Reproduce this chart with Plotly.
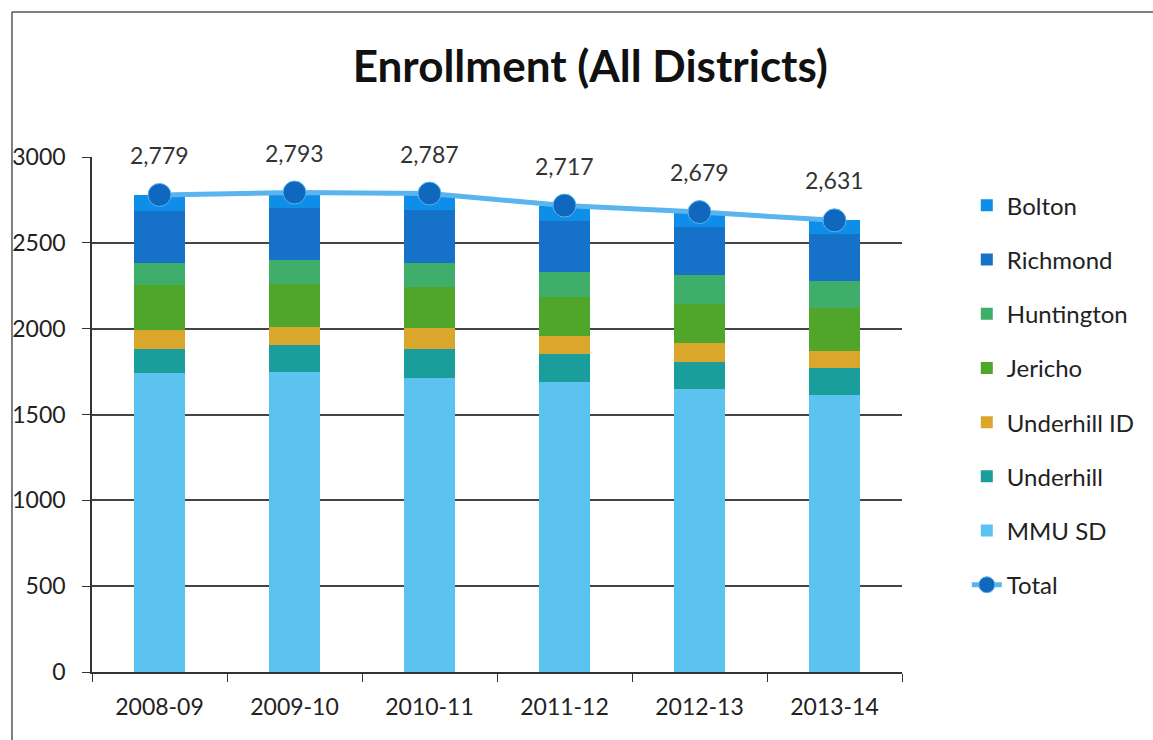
import plotly.graph_objects as go

years = ["2008-09", "2009-10", "2010-11", "2011-12", "2012-13", "2013-14"]
mmu_sd = [1744, 1749, 1711, 1688, 1647, 1614]
underhill = [137, 156, 170, 162, 161, 155]
underhill_id = [111, 106, 121, 109, 110, 101]
jericho = [262, 247, 243, 227, 226, 248]
huntington = [130, 142, 136, 146, 168, 160]
richmond = [300, 301, 308, 295, 283, 273]
bolton = [95, 92, 98, 90, 84, 80]
total = [2779, 2793, 2787, 2717, 2679, 2631]
total_labels = ["2,779", "2,793", "2,787", "2,717", "2,679", "2,631"]
y_ticks = [0, 500, 1000, 1500, 2000, 2500, 3000]

FONT = "Lato, Open Sans, sans-serif"

series = [
    ("MMU SD", mmu_sd, "#5cc3f0", 7),
    ("Underhill", underhill, "#1a9e9c", 6),
    ("Underhill ID", underhill_id, "#dba62c", 5),
    ("Jericho", jericho, "#4fa62a", 4),
    ("Huntington", huntington, "#3fae6a", 3),
    ("Richmond", richmond, "#1572c8", 2),
    ("Bolton", bolton, "#0e8ee8", 1),
]

fig = go.Figure()
for name, vals, color, rank in series:
    fig.add_trace(go.Bar(
        x=years, y=vals, name=name, marker=dict(color=color, line=dict(width=0)),
        legendrank=rank, legendgroup=name,
    ))

fig.add_trace(go.Scatter(
    x=years, y=total, name="Total", mode="lines+markers",
    line=dict(color="#5ab4ee", width=5),
    marker=dict(color="#0f68bd", size=23, line=dict(color="#5ab4ee", width=1)),
    legendrank=8, legendgroup="Total",
))

for yr, t, lab in zip(years, total, total_labels):
    fig.add_annotation(x=yr, y=t, text=lab, showarrow=False, yshift=40,
                       font=dict(family=FONT, size=23, color="#333333"))

fig.update_layout(
    width=1153, height=740,
    barmode="stack", bargap=0.615,
    paper_bgcolor="white", plot_bgcolor="white",
    margin=dict(l=92, r=251, t=157, b=68, autoexpand=False),
    title=dict(text="<b>Enrollment (All Districts)</b>", x=0.512, xanchor="center",
               y=0.91, yanchor="middle",
               font=dict(family=FONT, size=44, color="#111111")),
    font=dict(family=FONT, size=20, color="#222222"),
    legend=dict(x=1.08, y=0.949, xanchor="left", yanchor="top",
                traceorder="grouped", tracegroupgap=20,
                font=dict(family=FONT, size=24, color="#222222"),
                bgcolor="rgba(0,0,0,0)"),
    showlegend=True,
)

fig.update_xaxes(type="category", showline=True, linecolor="#333333", linewidth=1.5,
                 ticks="outside", tickson="boundaries", ticklen=8, tickcolor="#333333",
                 ticklabelstandoff=14,
                 showgrid=False, tickfont=dict(size=23, family=FONT, color="#222222"))
fig.update_yaxes(range=[0, 3000], tickvals=y_ticks, showline=True, linecolor="#333333",
                 linewidth=1.5, ticks="outside", ticklen=8, tickcolor="#333333",
                 ticklabelstandoff=12,
                 showgrid=True, gridcolor="#444444", gridwidth=1.5, zeroline=False,
                 tickfont=dict(size=23, family=FONT, color="#222222"))

# outer frame (left and top edges of the scanned chart border)
fig.add_shape(type="line", xref="paper", yref="paper", x0=-0.0988, x1=-0.0988, y0=-0.14, y1=1.2816,
              line=dict(color="#555555", width=1.5))
fig.add_shape(type="line", xref="paper", yref="paper", x0=-0.0988, x1=1.36, y0=1.2816, y1=1.2816,
              line=dict(color="#555555", width=1.5))

fig.write_html("out.html", config={"displayModeBar": False},
               post_script="document.body.style.margin='0';")
